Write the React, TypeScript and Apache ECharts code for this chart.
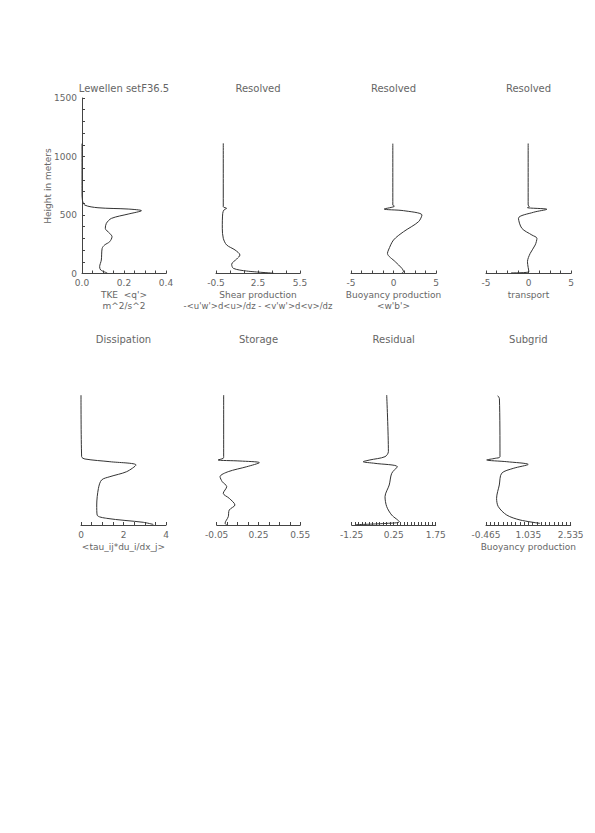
import React, { useEffect, useRef } from 'react';
import * as echarts from 'echarts';

// ---- data (height in meters, value) ----
const tkeH = [1110, 700, 627, 585, 562, 551, 537, 508, 471, 429, 386, 343, 315, 272, 244, 215, 115, 58, 30, 5];
const tkeV = [0, 0, 0.002, 0.013, 0.076, 0.22, 0.283, 0.22, 0.14, 0.116, 0.111, 0.132, 0.143, 0.132, 0.108, 0.096, 0.092, 0.084, 0.089, 0.12];

const shearH = [1113, 571, 557, 543, 514, 386, 301, 244, 201, 158, 124, 79, 44, 21, 3];
const shearV = [0.02, 0.02, 0.26, 0.07, -0.02, -0.05, 0.02, 0.26, 0.86, 1.21, 0.98, 0.62, 0.74, 1.69, 3.6];

const buoyH = [1110, 585, 575, 551, 537, 500, 443, 357, 286, 201, 172, 101, 44, 15, 5];
const buoyV = [-0.08, -0.08, 0.1, -1.1, 1.18, 3.35, 2.95, 1.18, 0, -0.59, -0.71, 0.2, 0.99, 1.18, 0.99];

const transH = [1111, 585, 571, 563, 549, 523, 472, 386, 329, 301, 244, 172, 101, 15, 5];
const transV = [-0.04, -0.04, 0.08, -0.12, 2.17, 0.58, -1.18, -0.78, 0.4, 0.99, 0.79, 0.2, -0.12, 0.05, -2.05];

const dissH = [1110, 584, 564, 541, 513, 456, 413, 385, 313, 171, 85, 57, 23, 5];
const dissV = [0, 0.03, 0.19, 1.36, 2.59, 2.15, 1.36, 0.97, 0.82, 0.74, 0.76, 1.21, 2.93, 3.4];

const storH = [1111, 584, 570, 556, 547, 533, 498, 456, 413, 370, 328, 271, 228, 171, 128, 71, 14, 2];
const storV = [0, 0, -0.003, -0.04, 0.117, 0.256, 0.165, 0.033, -0.026, -0.01, 0.022, -0.003, 0.04, 0.081, 0.04, 0.033, 0.01, 0.022];

const resH = [1111, 627, 584, 556, 541, 527, 498, 442, 342, 242, 157, 85, 28, 14, 3];
const resV = [0.0, 0.06, -0.06, -0.6, -0.84, -0.42, 0.38, 0.18, 0.09, -0.06, 0.0, 0.18, 0.45, 0.0, -1.1];

const subH = [1105, 1080, 584, 570, 556, 541, 518, 484, 442, 342, 228, 157, 85, 43, 14];
const subV = [-0.05, 0.01, 0.03, -0.14, -0.44, 0.27, 1.03, 0.5, 0.09, 0.006, -0.09, -0.03, 0.27, 0.74, 1.45];

// ---- axis definitions ----
const xMins = [0, -0.5, -5, -5, 0, -0.05, -1.25, -0.465];
const xMaxs = [0.4, 5.5, 5, 5, 4, 0.55, 1.75, 2.535];
const xTickSteps = [0.05, 1, 1.25, 1.25, 0.5, 0.075, 0.125, 0.15];
const xLabelSteps = [0.2, 3, 5, 5, 2, 0.3, 1.5, 1.5];
const xDecimals = [1, 1, 0, 0, 0, 2, 2, 3];
const yTickLabels = [0, 500, 1000, 1500];
const yTickStep = 100;

const titles = ['Lewellen setF36.5', 'Resolved', 'Resolved', 'Resolved', 'Dissipation', 'Storage', 'Residual', 'Subgrid'];
const xNames = [
  ['TKE  <q\'>', 'm^2/s^2'],
  ['Shear production', "-<u'w'>d<u>/dz - <v'w'>d<v>/dz"],
  ['Buoyancy production', "<w'b'>"],
  ['transport'],
  ['<tau_ij*du_i/dx_j>'],
  [],
  [],
  ['Buoyancy production'],
];
const yName = 'Height in meters';

const seriesH = [tkeH, shearH, buoyH, transH, dissH, storH, resH, subH];
const seriesV = [tkeV, shearV, buoyV, transV, dissV, storV, resV, subV];

// layout
const gridBoxes = [
  [82, 98, 84],
  [216, 98, 84],
  [351, 98, 85],
  [486, 98, 85],
  [81, 349.5, 85],
  [216.7, 349.5, 83.6],
  [351.7, 349.5, 84],
  [486, 349.5, 84.7],
];
const GH = 175.5;
const TXT = '#666';
const FONT = 'DejaVu Sans';

function steps(min: number, max: number, step: number) {
  const out: number[] = [];
  const n = Math.round((max - min) / step);
  for (let i = 0; i <= n; i++) out.push(+(min + i * step).toFixed(6));
  return out;
}

export default function App() {
  const ref = useRef<HTMLDivElement>(null);
  useEffect(() => {
    if (!ref.current) return;
    const chart = echarts.init(ref.current, undefined, { renderer: 'svg' });
    const grids: any[] = [];
    const xAxes: any[] = [];
    const yAxes: any[] = [];
    const series: any[] = [];
    const graphics: any[] = [];
    for (let i = 0; i < 8; i++) {
      const [l, t, w] = gridBoxes[i];
      grids.push({ left: l, top: t, width: w, height: GH });
      const dec = xDecimals[i];
      xAxes.push({
        type: 'value',
        gridIndex: i,
        min: xMins[i],
        max: xMaxs[i],
        axisLine: { show: true, lineStyle: { color: '#444', width: 1 } },
        axisTick: {
          show: true,
          inside: true,
          length: 3,
          lineStyle: { color: '#444' },
          customValues: steps(xMins[i], xMaxs[i], xTickSteps[i]),
        },
        axisLabel: {
          show: true,
          margin: 5,
          color: TXT,
          fontSize: 9,
          fontFamily: FONT,
          customValues: steps(xMins[i], xMaxs[i], xLabelSteps[i]),
          formatter: (v: number) => v.toFixed(dec),
        },
        splitLine: { show: false },
      });
      yAxes.push({
        type: 'value',
        gridIndex: i,
        min: 0,
        max: 1500,
        interval: 500,
        show: i === 0,
        axisLine: { show: i === 0, lineStyle: { color: '#444', width: 1 } },
        axisTick: {
          show: i === 0,
          inside: true,
          length: 3,
          lineStyle: { color: '#444' },
          customValues: steps(0, 1500, yTickStep),
        },
        axisLabel: {
          show: i === 0,
          margin: 5,
          color: TXT,
          fontSize: 9,
          fontFamily: FONT,
          customValues: yTickLabels,
          formatter: (v: number) => String(v),
        },
        splitLine: { show: false },
      });
      series.push({
        type: 'line',
        xAxisIndex: i,
        yAxisIndex: i,
        showSymbol: false,
        smooth: 0.3,
        lineStyle: { color: '#333', width: 1 },
        data: seriesH[i].map((h, k) => [seriesV[i][k], h]),
      });
      const cx = l + w / 2;
      graphics.push({
        type: 'text',
        x: cx,
        y: t - 10,
        style: { text: titles[i], fill: TXT, font: `10px "${FONT}"`, align: 'center', verticalAlign: 'middle' },
      });
      xNames[i].forEach((s, k) => {
        graphics.push({
          type: 'text',
          x: cx,
          y: t + GH + 21.5 + k * 11,
          style: {
            text: s,
            fill: TXT,
            font: `${s.length > 25 ? 8.5 : 9}px "${FONT}"`,
            align: 'center',
            verticalAlign: 'middle',
          },
        });
      });
    }
    graphics.push({
      type: 'text',
      x: 48,
      y: 186,
      rotation: Math.PI / 2,
      style: { text: yName, fill: TXT, font: `9px "${FONT}"`, align: 'center', verticalAlign: 'middle' },
    });
    chart.setOption({
      animation: false,
      backgroundColor: '#fff',
      grid: grids,
      xAxis: xAxes,
      yAxis: yAxes,
      series,
      graphic: graphics,
    });
    return () => chart.dispose();
  }, []);
  return (
    <div
      ref={ref}
      style={{ position: 'fixed', left: 0, top: 0, width: 595, height: 833, background: '#fff' }}
    />
  );
}
